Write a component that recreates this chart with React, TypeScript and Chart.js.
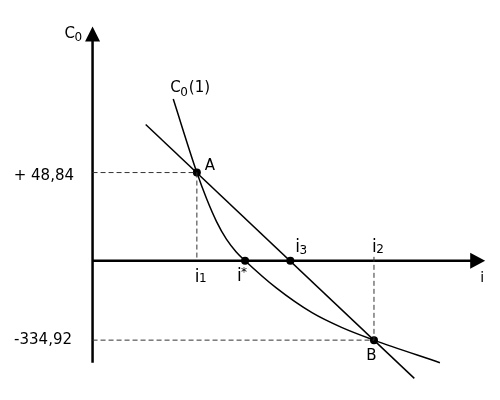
import React, { useEffect, useRef } from "react";
import { Chart, registerables } from "chart.js";

Chart.register(...registerables);

// schematic units: 1 unit on i ~ 10px, 1 unit on C0 ~ 10px (drawing is not to scale)
const curveI = [8.2, 10.6, 11.6, 12.6, 13.6, 14.6, 15.5, 18.7, 22.3, 25.3, 28.6, 35.3];
const curveC0 = [16.5, 9.0, 6.3, 4.0, 2.2, 0.9, 0, -2.8, -5.3, -6.8, -8.1, -10.4];

const chordI = [5.4, 32.7];
const chordC0 = [13.9, -12.0];

const pointNames = ["A", "i*", "i3", "B"];
const pointI = [10.6, 15.5, 20.1, 28.6];
const pointC0 = [9.0, 0, 0, -8.1];

const tickLabels = ["+ 48,84", "-334,92"];

const iRange = [-9, 41];
const c0Range = [-13.8, 26.2];
const yAxisExtent = [-10.4, 23.9];
const xAxisEnd = 39.9;

const FONT = "'DejaVu Sans', Verdana, sans-serif";

const xy = (xs: number[], ys: number[]) => xs.map((x, k) => ({ x, y: ys[k] }));

const A = { x: pointI[0], y: pointC0[0] };
const B = { x: pointI[3], y: pointC0[3] };

const guide = (data: { x: number; y: number }[]) => ({
  data,
  borderColor: "#333",
  borderWidth: 1,
  borderDash: [5, 3],
  pointRadius: 0,
  fill: false,
});

const drawingPlugin = {
  id: "drawing",
  beforeDatasetsDraw(chart: Chart) {
    const ctx = chart.ctx;
    const sx = chart.scales.x;
    const sy = chart.scales.y;
    const ox = sx.getPixelForValue(0);
    const oy = sy.getPixelForValue(0);
    const yTop = sy.getPixelForValue(yAxisExtent[1]);
    const yBot = sy.getPixelForValue(yAxisExtent[0]);
    const xTip = sx.getPixelForValue(xAxisEnd);

    ctx.save();
    ctx.strokeStyle = "#000";
    ctx.fillStyle = "#000";
    ctx.lineWidth = 2.5;
    ctx.beginPath();
    ctx.moveTo(ox, yBot);
    ctx.lineTo(ox, yTop + 10);
    ctx.moveTo(ox - 1, oy);
    ctx.lineTo(xTip - 10, oy);
    ctx.stroke();

    ctx.beginPath();
    ctx.moveTo(ox, yTop);
    ctx.lineTo(ox + 7.5, yTop + 15);
    ctx.lineTo(ox - 7.5, yTop + 15);
    ctx.closePath();
    ctx.fill();

    ctx.beginPath();
    ctx.moveTo(xTip, oy);
    ctx.lineTo(xTip - 15, oy - 8);
    ctx.lineTo(xTip - 15, oy + 8);
    ctx.closePath();
    ctx.fill();
    ctx.restore();
  },
  afterDatasetsDraw(chart: Chart) {
    const ctx = chart.ctx;
    const sx = chart.scales.x;
    const sy = chart.scales.y;
    const p = (i: number, c: number) => ({ x: sx.getPixelForValue(i), y: sy.getPixelForValue(c) });
    const o = p(0, 0);
    const yTop = sy.getPixelForValue(yAxisExtent[1]);
    const xTip = sx.getPixelForValue(xAxisEnd);

    ctx.save();
    ctx.fillStyle = "#000";
    ctx.textBaseline = "alphabetic";

    const put = (s: string, x: number, y: number, size: number, align: CanvasTextAlign = "left") => {
      ctx.font = `${size}px ${FONT}`;
      ctx.textAlign = align;
      ctx.fillText(s, x, y);
      ctx.textAlign = "left";
      return ctx.measureText(s).width;
    };
    const sub = (main: string, s: string, x: number, y: number, size: number, dy: number) => {
      const w = put(main, x, y, size);
      const w2 = put(s, x + w - 0.5, y + dy, 12);
      return x + w - 0.5 + w2;
    };

    // axis titles
    sub("C", "0", o.x - 28, yTop + 11, 15, 3);
    put("i", xTip - 5, o.y + 21, 14);

    // curve label
    const cs = p(curveI[0], curveC0[0]);
    const end = sub("C", "0", cs.x - 3, cs.y - 7, 15, 4);
    put("(1)", end + 1, cs.y - 7, 15);

    // tick labels on C0
    const pa = p(A.x, A.y);
    const pb = p(B.x, B.y);
    put(tickLabels[0], 74, pa.y + 7, 15, "right");
    put(tickLabels[1], 72, pb.y + 4, 15, "right");

    // point labels
    put(pointNames[0], pa.x + 8, pa.y - 3, 15);
    put(pointNames[3], pb.x - 2.5, pb.y + 20, 15, "center");

    const ps = p(pointI[1], pointC0[1]);
    put("i", ps.x - 8, o.y + 20, 17);
    put("*", ps.x - 4, o.y + 15, 12);

    const p3 = p(pointI[2], pointC0[2]);
    sub("i", "3", p3.x + 5, o.y - 9, 17, 2);

    sub("i", "1", pa.x - 2, o.y + 21, 17, 0.5);
    sub("i", "2", pb.x - 2, o.y - 9, 17, 1.5);

    ctx.restore();
  },
};

const App: React.FC = () => {
  const canvas = useRef<HTMLCanvasElement>(null);

  useEffect(() => {
    const chart = new Chart(canvas.current!.getContext("2d")!, {
      type: "line",
      data: {
        datasets: [
          guide([{ x: 0, y: A.y }, A]),
          guide([A, { x: A.x, y: 0.3 }]),
          guide([{ x: 0, y: B.y }, B]),
          guide([{ x: B.x, y: 0.4 }, B]),
          {
            data: xy(curveI, curveC0),
            borderColor: "#000",
            borderWidth: 1.5,
            pointRadius: 0,
            cubicInterpolationMode: "monotone",
            fill: false,
          },
          {
            data: xy(chordI, chordC0),
            borderColor: "#000",
            borderWidth: 1.5,
            pointRadius: 0,
            fill: false,
          },
          {
            data: xy(pointI, pointC0),
            showLine: false,
            pointRadius: 4,
            pointBackgroundColor: "#000",
            pointBorderWidth: 0,
            borderColor: "#000",
          },
        ],
      },
      options: {
        animation: false,
        responsive: true,
        maintainAspectRatio: false,
        layout: { padding: 0 },
        scales: {
          x: { type: "linear", min: iRange[0], max: iRange[1], display: false },
          y: { type: "linear", min: c0Range[0], max: c0Range[1], display: false },
        },
        plugins: {
          legend: { display: false },
          tooltip: { enabled: false },
        },
        events: [],
      },
      plugins: [drawingPlugin],
    });

    return () => {
      chart.destroy();
    };
  }, []);

  return (
    <div style={{ position: "fixed", left: 0, top: 0, width: 500, height: 400, background: "#fff" }}>
      <canvas ref={canvas}></canvas>
    </div>
  );
};

export default App;
